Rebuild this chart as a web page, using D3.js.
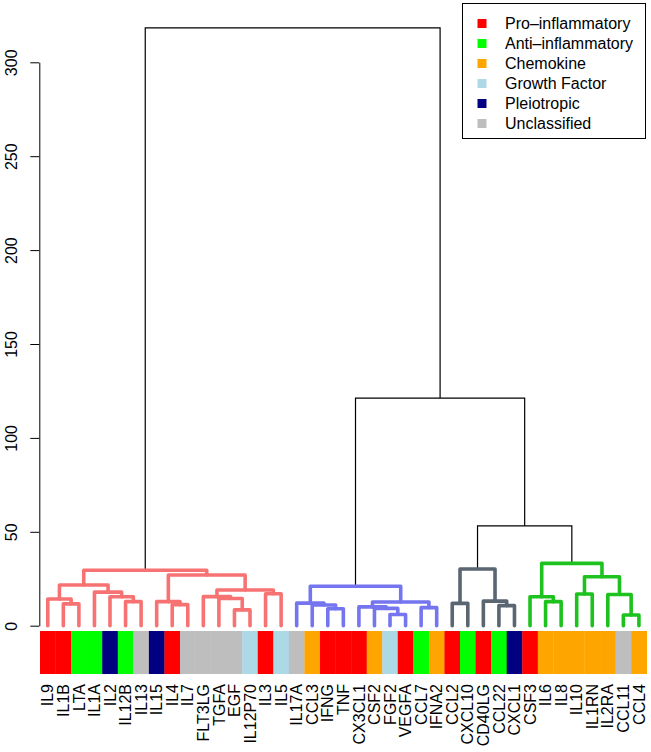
<!DOCTYPE html>
<html><head><meta charset="utf-8">
<script src="https://cdn.jsdelivr.net/npm/d3@7"></script>
<style>body{margin:0;background:#fff}text{font-family:"Liberation Sans",Arial,Helvetica,sans-serif}</style>
</head><body><svg id="c" width="651" height="752"></svg>
<script>
// ---- data ----
const leaves = ["IL9","IL1B","LTA","IL1A","IL2","IL12B","IL13","IL15","IL4","IL7","FLT3LG","TGFA","EGF","IL12P70","IL3","IL5",
  "IL17A","CCL3","IFNG","TNF","CX3CL1","CSF2","FGF2","VEGFA","CCL7","IFNA2",
  "CCL2","CXCL10","CD40LG","CCL22","CXCL1",
  "CSF3","IL6","IL8","IL10","IL1RN","IL2RA","CCL11","CCL4"];
const leafCategory = ["Pro","Pro","Anti","Anti","Pleio","Anti","Uncl","Pleio","Pro","Uncl","Uncl","Uncl","Uncl","Growth","Pro","Growth",
  "Uncl","Chemo","Pro","Pro","Pro","Chemo","Growth","Pro","Anti","Chemo",
  "Pro","Anti","Pro","Anti","Pleio",
  "Pro","Chemo","Chemo","Chemo","Chemo","Chemo","Uncl","Chemo"];
// merges: [left, right, height]; "mN" refers to merge N
const merges = [
  ["IL1B","LTA",11.6],   // m0
  ["IL9","m0",14.2],     // m1
  ["IL12B","IL13",12.8], // m2
  ["IL2","m2",15.4],     // m3
  ["IL1A","m3",17.9],    // m4
  ["m1","m4",21.7],      // m5
  ["IL4","IL7",11.2],    // m6
  ["IL15","m6",12.8],    // m7
  ["EGF","IL12P70",8.4], // m8
  ["TGFA","m8",14.5],    // m9
  ["FLT3LG","m9",15.5],  // m10
  ["IL3","IL5",17.0],    // m11
  ["m10","m11",19.0],    // m12
  ["m7","m12",27.0],     // m13
  ["m5","m13",29.5],     // m14
  ["IFNG","TNF",9.0],    // m15
  ["CCL3","m15",11.0],   // m16
  ["IL17A","m16",12.0],  // m17
  ["FGF2","VEGFA",6.0],  // m18
  ["CSF2","m18",9.2],    // m19
  ["CX3CL1","m19",10.0], // m20
  ["CCL7","IFNA2",9.6],  // m21
  ["m20","m21",12.6],    // m22
  ["m17","m22",21.0],    // m23
  ["CCL2","CXCL10",11.9],// m24
  ["CCL22","CXCL1",10.7],// m25
  ["CD40LG","m25",13.1], // m26
  ["m24","m26",30.2],    // m27
  ["IL6","IL8",12.8],    // m28
  ["CSF3","m28",15.4],   // m29
  ["IL10","IL1RN",16.9], // m30
  ["CCL11","CCL4",5.7],  // m31
  ["IL2RA","m31",16.6],  // m32
  ["m30","m32",26.1],    // m33
  ["m29","m33",33.2],    // m34
  ["m27","m34",53.2],    // m35
  ["m23","m35",121.2],   // m36
  ["m14","m36",318.3]    // m37
];
const clusterRoots = ["m14","m23","m27","m34"];
const clusterColors = ["#F77373","#7575F0","#5A6672","#1EC21E"];
const categoryKeys = ["Pro","Anti","Chemo","Growth","Pleio","Uncl"];
const categoryNames = ["Pro–inflammatory","Anti–inflammatory","Chemokine","Growth Factor","Pleiotropic","Unclassified"];
const categoryColors = ["#FF0000","#00FF00","#FFA500","#ADD8E6","#000080","#BEBEBE"];
const yTicks = [0,50,100,150,200,250,300];

// ---- build tree ----
const nodes = {};
leaves.forEach(n => nodes[n] = {name:n, height:0});
merges.forEach((m,i) => {
  nodes["m"+i] = {name:"m"+i, height:m[2], children:[nodes[m[0]], nodes[m[1]]]};
});
const root = d3.hierarchy(nodes["m"+(merges.length-1)]);

const svg = d3.select("#c");
const x = d3.scaleBand().domain(leaves).range([40, 646.7]).padding(0);
const y = d3.scaleLinear().domain([0,300]).range([625.7, 62.3]);

// x positions
root.eachAfter(d => {
  if (!d.children) d.px = x(d.data.name) + x.bandwidth()/2;
  else d.px = d3.mean(d.children, c => c.px);
});
// colors
root.eachBefore(d => {
  const ci = clusterRoots.indexOf(d.data.name);
  if (ci >= 0) d.col = clusterColors[ci];
  else d.col = d.parent ? d.parent.col : null;
});

const gLinks = svg.append("g").attr("fill","none");
const internal = root.descendants().filter(d => d.children);
// black first, then colored
internal.sort((a,b) => (a.col?1:0) - (b.col?1:0));
internal.forEach(d => {
  const [l, r] = d.children;
  const yn = y(d.data.height);
  gLinks.append("path")
    .attr("d", `M${l.px},${y(l.data.height)}V${yn}H${r.px}V${y(r.data.height)}`)
    .attr("stroke", d.col || "#000")
    .attr("stroke-width", d.col ? 3.6 : 1.2)
    .attr("stroke-linecap", d.col ? "round" : "butt")
    .attr("stroke-linejoin", d.col ? "round" : "miter");
});

// ---- category bars ----
svg.append("g").selectAll("rect").data(leaves).join("rect")
  .attr("x", d => x(d)).attr("y", 631)
  .attr("width", x.bandwidth()+0.3).attr("height", 43)
  .attr("fill", (d,i) => categoryColors[categoryKeys.indexOf(leafCategory[i])]);

// ---- leaf labels ----
svg.append("g").selectAll("text").data(leaves).join("text")
  .attr("transform", d => `translate(${x(d)+x.bandwidth()/2},684) rotate(-90)`)
  .attr("text-anchor","end").attr("dy","0.35em")
  .attr("font-size", 16).attr("fill","#000")
  .text(d => d);

// ---- y axis ----
const ax = svg.append("g").attr("transform","translate(39.3,0)")
  .call(d3.axisLeft(y).tickValues(yTicks).tickSize(9).tickSizeOuter(0).tickFormat(d3.format("d")));
ax.select(".domain").attr("stroke","#000").attr("stroke-width",1);
ax.selectAll(".tick line").attr("stroke","#000").attr("stroke-width",1);
ax.selectAll(".tick text")
  .attr("transform","rotate(-90)")
  .attr("x",0).attr("y",-22.5).attr("dy",0)
  .attr("text-anchor","middle")
  .attr("font-size",16).attr("font-family",null).attr("fill","#000");

// ---- legend ----
const lg = svg.append("g");
lg.append("rect").attr("x",462.5).attr("y",3.5).attr("width",183).attr("height",135)
  .attr("fill","#fff").attr("stroke","#000").attr("stroke-width",1);
categoryNames.forEach((n,i) => {
  const cy = 23.5 + i*20;
  lg.append("rect").attr("x",477.5).attr("y",cy-4.5).attr("width",9).attr("height",9)
    .attr("fill",categoryColors[i]);
  lg.append("text").attr("x",505).attr("y",cy+5.8).attr("font-size",16).attr("fill","#000").text(n);
});
</script></body></html>
